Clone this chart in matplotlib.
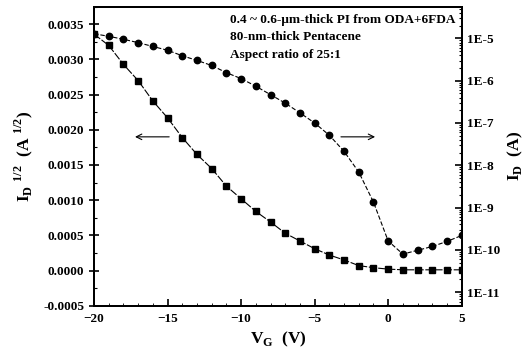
import numpy as np
import matplotlib
matplotlib.use("Agg")
import matplotlib.pyplot as plt
from matplotlib.ticker import FixedLocator, FixedFormatter, MultipleLocator, LogLocator, NullFormatter

plt.rcParams['font.family'] = ['Liberation Serif', 'DejaVu Serif']
plt.rcParams['font.weight'] = 'bold'
plt.rcParams['mathtext.fontset'] = 'custom'
plt.rcParams['mathtext.rm'] = 'Liberation Serif:bold'
plt.rcParams['mathtext.bf'] = 'Liberation Serif:bold'

# gate voltage (V)
vg = [-20, -19, -18, -17, -16, -15, -14, -13, -12, -11, -10, -9, -8,
      -7, -6, -5, -4, -3, -2, -1, 0, 1, 2, 3, 4, 5]

# sqrt(ID) (A^1/2), left axis
sqrt_id = [0.00336, 0.00320, 0.00293, 0.00270, 0.00241, 0.00217, 0.00189,
           0.00165, 0.00145, 0.00120, 0.00102, 0.00084, 0.00069,
           0.00053, 0.00042, 0.00031, 0.00022, 0.00015, 0.00007, 0.00004,
           0.00002, 0.00001, 0.00001, 0.00001, 0.00001, 0.00001]

# log10 ID (A), right axis
log_id = [-4.89, -4.95, -5.02, -5.10, -5.19, -5.28, -5.41, -5.52, -5.64,
          -5.81, -5.95, -6.13, -6.33, -6.53, -6.76, -7.00, -7.29, -7.67,
          -8.16, -8.87, -9.79, -10.10, -10.01, -9.92, -9.80, -9.66]
id_current = [10 ** v for v in log_id]

left_ticks = [-0.0005, 0.0, 0.0005, 0.0010, 0.0015, 0.0020, 0.0025, 0.0030, 0.0035]
right_ticks = [1e-11, 1e-10, 1e-9, 1e-8, 1e-7, 1e-6, 1e-5]
right_labels = ['1E-11', '1E-10', '1E-9', '1E-8', '1E-7', '1E-6', '1E-5']

notes = ['0.4 ~ 0.6-\u03bcm-thick PI from ODA+6FDA',
         '80-nm-thick Pentacene',
         'Aspect ratio of 25:1']

fig = plt.figure(figsize=(5.29, 3.58), dpi=100)
ax = fig.add_axes([0.1777, 0.1461, 0.6951, 0.8352])
ax2 = ax.twinx()

ax.plot(vg, sqrt_id, color='black', lw=0.8, dashes=(7, 1.5),
        marker='s', ms=4.0, clip_on=True)
ax2.plot(vg, id_current, color='black', lw=0.8, dashes=(4, 1.8),
         marker='o', ms=4.6, clip_on=True)
ax2.set_yscale('log')

ax.set_xlim(-20, 5)
ax.set_ylim(-0.0005, 0.00375)
ax2.set_ylim(10 ** -11.32, 10 ** -4.25)

ax.xaxis.set_major_locator(FixedLocator([-20, -15, -10, -5, 0, 5]))
ax.yaxis.set_major_locator(FixedLocator(left_ticks))
ax.yaxis.set_major_formatter(FixedFormatter(['%.4f' % t for t in left_ticks]))
ax.yaxis.set_minor_locator(MultipleLocator(0.00025))
ax.xaxis.set_minor_locator(MultipleLocator(1))

ax2.yaxis.set_major_locator(FixedLocator(right_ticks))
ax2.yaxis.set_major_formatter(FixedFormatter(right_labels))
ax2.yaxis.set_minor_locator(LogLocator(base=10, subs=np.arange(2, 10), numticks=20))
ax2.yaxis.set_minor_formatter(NullFormatter())

ax.tick_params(axis='y', which='major', direction='inout', length=7, width=1.2, labelsize=9.5)
ax.tick_params(axis='y', which='minor', direction='in', length=2.5, width=0.8)
ax.tick_params(axis='x', which='major', direction='in', length=5, width=1.2, labelsize=9.5, pad=5)
ax.tick_params(axis='x', which='minor', direction='in', length=2, width=0.6)
ax2.tick_params(axis='y', which='major', direction='in', length=5, width=1.2, labelsize=9.5)
ax2.tick_params(axis='y', which='minor', direction='in', length=2.5, width=0.8)

for a in (ax, ax2):
    for s in a.spines.values():
        s.set_linewidth(1.4)

ax.set_ylabel('I$_\\mathrm{D}$$^{\\ 1/2}$  (A$^{\\ 1/2}$)', fontsize=12.5, fontweight='bold', labelpad=6)
ax2.set_ylabel('I$_\\mathrm{D}$  (A)', fontsize=12.5, fontweight='bold', labelpad=4)
ax.set_xlabel('V$_\\mathrm{G}$  (V)', fontsize=12.5, fontweight='bold', labelpad=4)

for i, t in enumerate(notes):
    ax.text(0.37, 0.955 - i * 0.058, t, transform=ax.transAxes, fontsize=9.5,
            fontweight='bold', va='center', ha='left')

# arrows pointing to each axis
ax.annotate('', xy=(-17.4, 0.0019), xytext=(-14.7, 0.0019),
            arrowprops=dict(arrowstyle='->', lw=0.8, color='black'))
ax.annotate('', xy=(-0.7, 0.0019), xytext=(-3.4, 0.0019),
            arrowprops=dict(arrowstyle='->', lw=0.8, color='black'))

fig.savefig('out.png', dpi=100)
